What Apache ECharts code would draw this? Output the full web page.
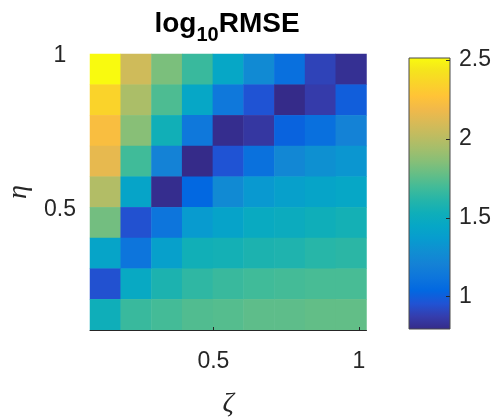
<!DOCTYPE html>
<html><head><meta charset="utf-8">
<script src="https://cdn.jsdelivr.net/npm/echarts@6/dist/echarts.min.js"></script>
<style>html,body{margin:0;padding:0;background:#fff}#c{width:496px;height:420px}</style>
</head><body><div id="c"></div>
<script>
// cell centres (zeta along x, eta along y from bottom to top)
const zetaCenters = [0.13, 0.23, 0.34, 0.45, 0.55, 0.66, 0.76, 0.87, 0.97];
const etaCenters = [0.16, 0.26, 0.36, 0.46, 0.56, 0.66, 0.76, 0.86, 0.96];
// log10 RMSE, one array per eta row (top row first)
const rowEta096 = [2.51, 2.07, 1.83, 1.67, 1.45, 1.26, 1.09, 0.90, 0.82];
const rowEta086 = [2.35, 1.96, 1.72, 1.45, 1.14, 0.96, 0.80, 0.87, 1.00];
const rowEta076 = [2.23, 1.86, 1.54, 1.14, 0.81, 0.85, 1.02, 1.09, 1.21];
const rowEta066 = [2.15, 1.69, 1.21, 0.80, 0.96, 1.10, 1.24, 1.30, 1.33];
const rowEta056 = [1.98, 1.43, 0.81, 1.04, 1.26, 1.35, 1.40, 1.43, 1.45];
const rowEta046 = [1.81, 0.95, 1.12, 1.36, 1.42, 1.48, 1.50, 1.53, 1.55];
const rowEta036 = [1.43, 1.12, 1.40, 1.54, 1.55, 1.58, 1.59, 1.62, 1.63];
const rowEta026 = [0.95, 1.47, 1.58, 1.64, 1.67, 1.69, 1.70, 1.71, 1.71];
const rowEta016 = [1.53, 1.67, 1.70, 1.73, 1.74, 1.76, 1.76, 1.77, 1.77];
const rowsTopToBottom = [rowEta096, rowEta086, rowEta076, rowEta066, rowEta056,
                         rowEta046, rowEta036, rowEta026, rowEta016];
// tick labels
const xTicks = [0.5, 1];
const yTicks = [0.5, 1];
const cbTicks = [1, 1.5, 2, 2.5];
// axis limits
const xExtent = [0.076, 1.026];
const yExtent = [0.11, 1.006];
const cbRange = [0.795, 2.513];
// parula colormap
const parula = ['#352A87','#353DAD','#2053D4','#0268E1','#0D75DC','#1481D6','#108ED2','#079CCF',
  '#06A7C6','#0FAEB9','#25B5A9','#42BB98','#65BE86','#87BF77','#A5BE6B','#C0BC60','#D9BA56',
  '#F1B94A','#FFC337','#FAD32A','#F5E41D','#F9FB0E'];

const heatData = [];
rowsTopToBottom.forEach((row, r) => {
  const yi = etaCenters.length - 1 - r;
  row.forEach((v, xi) => heatData.push([xi, yi, v]));
});

const TXT = '#262626';
const FONT = "'Liberation Sans', Arial, Helvetica, sans-serif";
const chart = echarts.init(document.getElementById('c'), null, {renderer: 'canvas'});
const gradStops = parula.map((c, i) => ({offset: i / (parula.length - 1), color: c}));

chart.setOption({
  animation: false,
  backgroundColor: '#fff',
  title: {
    text: '{a|log}{b|10}{a|RMSE}',
    left: 222, top: -2, textAlign: 'center',
    textStyle: {
      rich: {
        a: {fontSize: 28, fontWeight: 'bold', color: '#000', fontFamily: FONT, lineHeight: 42, verticalAlign: 'middle'},
        b: {fontSize: 20, fontWeight: 'bold', color: '#000', fontFamily: FONT, lineHeight: 4, verticalAlign: 'bottom'}
      }
    }
  },
  grid: [
    {left: 90, top: 54, width: 276.5, height: 276, containLabel: false, outerBoundsMode: 'none'},
    {left: 409, top: 58, width: 41, height: 271, containLabel: false, outerBoundsMode: 'none'}
  ],
  visualMap: {
    show: false, type: 'continuous', seriesIndex: 0, dimension: 2,
    min: cbRange[0], max: cbRange[1], inRange: {color: parula}
  },
  xAxis: [
    {type: 'category', gridIndex: 0, data: zetaCenters, show: false},
    {type: 'value', gridIndex: 0, min: xExtent[0], max: xExtent[1], position: 'bottom', z: 5,
     axisLine: {show: true, onZero: false, lineStyle: {color: TXT, width: 1}},
     axisTick: {show: true, inside: true, length: 3, customValues: xTicks, lineStyle: {color: TXT}},
     axisLabel: {customValues: xTicks, color: TXT, fontSize: 23, fontFamily: FONT, margin: 20},
     splitLine: {show: false},
     name: 'ζ', nameLocation: 'middle', nameGap: 60,
     nameTextStyle: {fontSize: 28, color: TXT, fontFamily: "'Liberation Serif', serif", fontStyle: 'italic'}},
    {type: 'value', gridIndex: 1, min: 0, max: 1, show: false}
  ],
  yAxis: [
    {type: 'category', gridIndex: 0, data: etaCenters, show: false},
    {type: 'value', gridIndex: 0, min: yExtent[0], max: yExtent[1], position: 'left', z: 5,
     axisLine: {show: false, onZero: false}, axisTick: {show: false}, splitLine: {show: false},
     axisLabel: {customValues: yTicks, color: TXT, fontSize: 23, fontFamily: FONT, margin: 30, align: 'center'},
     name: 'η', nameLocation: 'middle', nameGap: 55, nameRotate: 90,
     nameTextStyle: {fontSize: 28, color: TXT, fontFamily: "'Liberation Serif', serif", fontStyle: 'italic'}},
    {type: 'value', gridIndex: 1, min: cbRange[0], max: cbRange[1], position: 'right', z: 5,
     axisLine: {show: false, onZero: false}, splitLine: {show: false},
     axisTick: {show: true, inside: true, length: 4, customValues: cbTicks, lineStyle: {color: TXT}},
     axisLabel: {customValues: cbTicks, color: TXT, fontSize: 23, fontFamily: FONT, margin: 9}}
  ],
  series: [
    {type: 'heatmap', xAxisIndex: 0, yAxisIndex: 0, data: heatData,
     itemStyle: {borderWidth: 0}, emphasis: {disabled: true}, progressive: 0},
    {type: 'custom', xAxisIndex: 2, yAxisIndex: 2, data: [[0, cbRange[0], 1, cbRange[1]]], z: 1,
     renderItem: function (params, api) {
       const p0 = api.coord([api.value(0), api.value(3)]);
       const p1 = api.coord([api.value(2), api.value(1)]);
       return {
         type: 'rect',
         shape: {x: p0[0], y: p0[1], width: p1[0] - p0[0], height: p1[1] - p0[1]},
         style: {
           fill: new echarts.graphic.LinearGradient(0, 1, 0, 0, gradStops),
           stroke: '#4a4a4a', lineWidth: 1
         }
       };
     }}
  ]
});
</script></body></html>
